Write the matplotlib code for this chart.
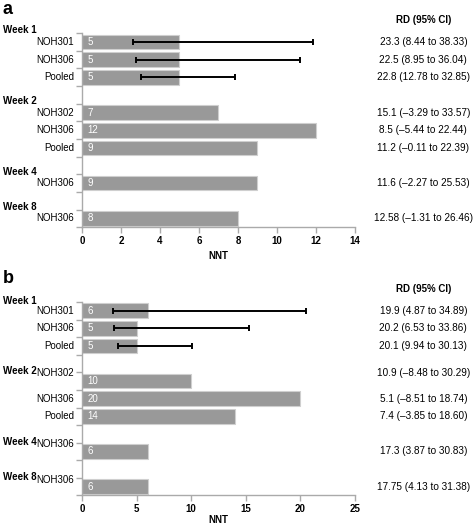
# NNT bar charts with 95% CI error bars, panels a and b

import numpy as np
import matplotlib.pyplot as plt
import matplotlib.transforms as mtransforms

plt.rcParams["font.family"] = ["Liberation Sans", "DejaVu Sans"]

# rows: NOH301, NOH306, Pooled, -, NOH302, NOH306, Pooled, -, NOH306, -, NOH306
row_names = ['NOH301', 'NOH306', 'Pooled', '', 'NOH302', 'NOH306', 'Pooled', '',
             'NOH306', '', 'NOH306']
week_names = ['Week 1', 'Week 2', 'Week 4', 'Week 8']
week_rows = [0, 4, 8, 10]

# panel a
nnt_a = [5, 5, 5, None, 7, 12, 9, None, 9, None, 8]
rd_a = ['23.3 (8.44 to 38.33)', '22.5 (8.95 to 36.04)', '22.8 (12.78 to 32.85)', '',
        '15.1 (\u20133.29 to 33.57)', '8.5 (\u20135.44 to 22.44)', '11.2 (\u20130.11 to 22.39)', '',
        '11.6 (\u20132.27 to 25.53)', '', '12.58 (\u20131.31 to 26.46)']
ci_low_a = [8.44, 8.95, 12.78]
ci_high_a = [38.33, 36.04, 32.85]

# panel b
nnt_b = [6, 5, 5, None, 10, 20, 14, None, 6, None, 6]
rd_b = ['19.9 (4.87 to 34.89)', '20.2 (6.53 to 33.86)', '20.1 (9.94 to 30.13)', '',
        '10.9 (\u20138.48 to 30.29)', '5.1 (\u20138.51 to 18.74)', '7.4 (\u20133.85 to 18.60)', '',
        '17.3 (3.87 to 30.83)', '', '17.75 (4.13 to 31.38)']
ci_low_b = [4.87, 6.53, 9.94]
ci_high_b = [34.89, 33.86, 30.13]

fig = plt.figure(figsize=(4.73, 5.26), dpi=100)

panels = [
    dict(tag='a', rect=[0.1734, 0.568, 0.577, 0.369], nnt=nnt_a, rd=rd_a,
         lo=ci_low_a, hi=ci_high_a, xmax=14, step=2, pad=4,
         week_dy=-0.65, label_dy={}, rd_dy={}),
    dict(tag='b', rect=[0.1734, 0.058, 0.577, 0.368], nnt=nnt_b, rd=rd_b,
         lo=ci_low_b, hi=ci_high_b, xmax=25, step=5, pad=0.5,
         week_dy=-0.55, label_dy={4: -0.45, 8: -0.4, 10: -0.4}, rd_dy={4: -0.45}),
]

grey = '#aaaaaa'

for p in panels:
    ax = fig.add_axes(p['rect'])
    rows = np.arange(len(row_names))
    vals = np.array([v if v is not None else 0 for v in p['nnt']], dtype=float)
    has = np.array([v is not None for v in p['nnt']])

    ax.barh(rows[has], vals[has], height=0.83, color='#999999',
            edgecolor='#cfcfcf', linewidth=0.8, zorder=2)

    # error bars: NNT CI = 100 / RD CI bounds (only where CI excludes zero)
    lo_nnt = 100 / np.array(p['hi'])
    hi_nnt = 100 / np.array(p['lo'])
    mid = (lo_nnt + hi_nnt) / 2
    ax.errorbar(mid, rows[:3], xerr=[mid - lo_nnt, hi_nnt - mid], fmt='none',
                ecolor='black', elinewidth=1.4, capsize=2.2, capthick=1.4, zorder=3)

    for r, v in zip(rows, p['nnt']):
        if v is None:
            continue
        ax.annotate(str(v), xy=(0, r), xytext=(4, 0), textcoords='offset points',
                    ha='left', va='center', color='white', fontsize=7, zorder=4)

    ax.set_xlim(0, p['xmax'])
    ax.set_ylim(len(row_names) - 0.5, -0.5)
    ax.set_xticks(np.arange(0, p['xmax'] + 1, p['step']))
    ax.set_yticks(np.arange(-0.5, len(row_names), 1.0))
    ax.set_yticklabels([])
    for lab in ax.get_xticklabels():
        lab.set_fontweight('bold')
        lab.set_fontsize(7)

    for s in ['top', 'right']:
        ax.spines[s].set_visible(False)
    for s in ['left', 'bottom']:
        ax.spines[s].set_color(grey)
        ax.spines[s].set_linewidth(1.0)
    ax.tick_params(axis='both', colors=grey, length=4, width=1.0, labelcolor='black', pad=2)

    ax.set_xlabel('NNT', fontsize=7, fontweight='bold', labelpad=p['pad'])

    blend = mtransforms.blended_transform_factory(fig.transFigure, ax.transData)

    # category labels
    for r, name in zip(rows, row_names):
        if not name:
            continue
        ax.text(-0.03, r + p['label_dy'].get(r, 0), name,
                transform=mtransforms.blended_transform_factory(ax.transAxes, ax.transData),
                ha='right', va='center', fontsize=7)

    # week labels
    for wk, r in zip(week_names, week_rows):
        ax.text(0.006, r + p['week_dy'], wk, transform=blend, ha='left', va='center',
                fontsize=7, fontweight='bold')

    # RD column
    ax.text(0.895, -1.25, 'RD (95% CI)', transform=blend, ha='center', va='center',
            fontsize=7, fontweight='bold')
    for r, t in zip(rows, p['rd']):
        if not t:
            continue
        ax.text(0.895, r + p['rd_dy'].get(r, 0), t, transform=blend,
                ha='center', va='center', fontsize=7.2)

    ax.text(0.006, -1.85, p['tag'], transform=blend, ha='left', va='center',
            fontsize=13, fontweight='bold')

fig.savefig('out.png', dpi=100)
